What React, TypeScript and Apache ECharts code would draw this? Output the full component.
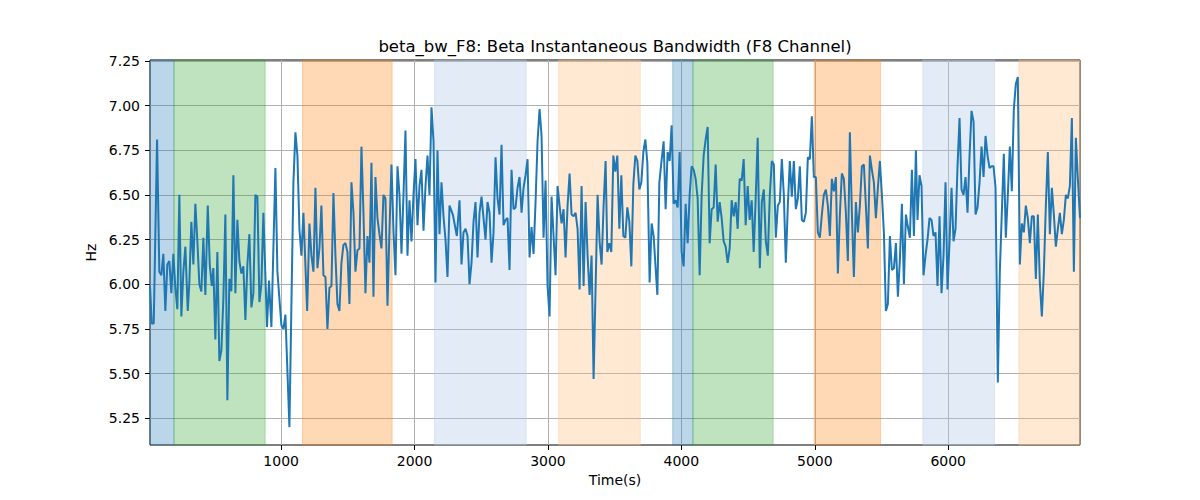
import React, { useEffect, useRef } from "react";
import * as echarts from "echarts";

// beta bandwidth samples
const timeSec = [
  17, 30, 45, 70, 87, 102, 117, 132, 147, 162,
  177, 192, 207, 222, 237, 252, 267, 282, 300, 312,
  327, 342, 357, 372, 387, 402, 417, 432, 450, 465,
  480, 492, 507, 522, 537, 552, 567, 582, 597, 612,
  627, 642, 657, 672, 687, 702, 717, 732, 747, 762,
  777, 792, 807, 822, 837, 852, 867, 894, 909, 927,
  957, 972, 1002, 1017, 1032, 1062, 1092, 1107, 1122, 1137,
  1152, 1167,
  1195, 1212, 1227, 1242, 1257, 1272, 1287, 1302, 1317, 1332,
  1347, 1362, 1377, 1392, 1407, 1422, 1437, 1452, 1467, 1482,
  1497, 1512, 1527, 1542, 1557, 1572, 1587, 1602, 1617, 1632,
  1647, 1662, 1677, 1692, 1707, 1722, 1737, 1752, 1767, 1782,
  1797, 1812, 1827, 1842, 1857, 1872, 1887, 1902, 1917, 1932,
  1947, 1962, 1977, 1992, 2007, 2022, 2037, 2052, 2067, 2082,
  2097, 2112, 2127, 2142, 2157, 2172, 2187, 2202, 2217, 2232,
  2247,
  2262, 2287, 2317, 2337, 2352, 2367, 2382, 2397, 2412, 2427,
  2442, 2457, 2472, 2487, 2502, 2517, 2532, 2547, 2562, 2577,
  2592, 2607, 2622, 2637, 2652, 2667, 2682, 2697, 2712, 2727,
  2742, 2757, 2772, 2787, 2802, 2817, 2832, 2847, 2862, 2877,
  2892, 2907, 2922, 2937, 2952, 2967, 2982, 2997, 3012, 3027,
  3042, 3057, 3072, 3087, 3102, 3117, 3132, 3147, 3162, 3177,
  3192, 3207, 3222, 3237, 3252, 3267, 3282, 3297, 3312, 3327,
  3342, 3357, 3372, 3387, 3402, 3417, 3432,
  3445, 3460, 3475, 3490, 3505, 3520, 3535, 3550, 3565, 3580,
  3595, 3610, 3625, 3640, 3655, 3670, 3685, 3700, 3715, 3730,
  3745, 3762, 3777, 3792, 3807, 3820, 3835, 3850, 3867, 3882,
  3897, 3912, 3927, 3942, 3957, 3972, 3987, 4002, 4017, 4032,
  4047, 4062, 4077, 4092, 4107, 4122, 4137, 4152, 4167, 4182,
  4197, 4212, 4227, 4242, 4257, 4272, 4287, 4302, 4317, 4332,
  4347, 4362, 4377, 4392, 4407, 4422, 4437, 4452, 4467, 4482,
  4497, 4512, 4527, 4542, 4557, 4572,
  4588, 4603, 4618, 4633, 4648, 4663, 4678, 4693, 4708, 4723,
  4738, 4753, 4768, 4783, 4798, 4813, 4828, 4843, 4858, 4873,
  4888, 4903, 4918, 4933, 4948, 4963, 4978, 4993, 5008, 5023,
  5038, 5053, 5068, 5083, 5098, 5113, 5128, 5143, 5158, 5173,
  5188, 5203, 5218, 5233, 5248, 5263, 5278, 5293, 5308, 5323,
  5338, 5353, 5368, 5383, 5398, 5413, 5428, 5443, 5458, 5473,
  5488, 5503, 5518, 5533, 5548, 5563, 5578, 5593, 5608, 5623,
  5638, 5653, 5668, 5683, 5698, 5713, 5728, 5743, 5758,
  5770, 5785, 5800, 5815, 5830, 5845, 5860, 5875, 5890, 5905,
  5920, 5935, 5950, 5965, 5980, 5995, 6010, 6025, 6040, 6055,
  6070, 6085, 6100, 6115, 6130, 6145, 6160, 6175, 6190, 6205,
  6220, 6235, 6250, 6265, 6280, 6295, 6310, 6325, 6340, 6355,
  6372, 6387, 6402, 6417, 6432, 6447, 6462, 6477, 6492, 6507,
  6522, 6537, 6552, 6567, 6582, 6597, 6612, 6627, 6642, 6657,
  6672, 6687, 6702, 6717, 6732, 6747, 6762, 6777, 6792, 6807,
  6822, 6837, 6852, 6867, 6882, 6897, 6912, 6927, 6942, 6957,
  6972, 6988,
];

const bwHz = [
  5.99, 5.78, 5.78, 6.81, 6.07, 6.05, 6.17, 5.85, 6.11, 6.13,
  5.95, 6.17, 5.98, 5.86, 6.50, 5.82, 6.07, 6.21, 5.85, 6.01,
  6.35, 6.11, 6.45, 6.24, 6.00, 5.96, 6.26, 5.94, 6.44, 6.11,
  5.99, 6.09, 5.69, 6.18, 5.57, 5.63, 5.92, 6.39, 5.35, 6.03,
  5.96, 6.61, 5.95, 6.36, 6.13, 6.06, 6.10, 5.80, 6.11, 6.28,
  5.87, 5.95, 6.50, 6.49, 5.90, 6.00, 6.40, 5.76, 6.02, 5.76,
  6.65, 6.07, 5.77, 5.75, 5.83, 5.20, 6.57, 6.85, 6.72, 6.31,
  6.16, 6.40,
  5.85, 6.34, 6.16, 6.07, 6.54, 6.09, 6.20, 6.44, 6.05, 6.04,
  5.75, 5.98, 5.99, 6.51, 6.16, 5.89, 5.85, 6.12, 6.22, 6.23,
  6.18, 5.89, 6.57, 6.40, 6.07, 6.19, 6.20, 6.77, 6.40, 5.95,
  6.27, 6.12, 6.68, 5.93, 6.60, 6.37, 6.28, 6.20, 6.50, 6.48,
  5.88, 6.30, 6.67, 6.30, 6.05, 6.66, 6.50, 6.17, 6.50, 6.86,
  6.16, 6.47, 6.24, 6.50, 6.70, 6.33, 6.55, 6.64, 6.30, 6.55,
  6.72, 6.50, 6.99, 6.80, 6.01, 6.75, 6.28, 6.57, 6.38, 6.25,
  6.04,
  6.44, 6.39, 6.27, 6.47, 6.11, 6.29, 6.31, 6.27, 6.00, 6.12,
  6.35, 6.46, 6.15, 6.40, 6.49, 6.37, 6.25, 6.46, 6.40, 6.12,
  6.29, 6.71, 6.48, 6.39, 6.78, 6.33, 6.36, 6.37, 6.08, 6.64,
  6.42, 6.43, 6.54, 6.60, 6.40, 6.54, 6.61, 6.70, 6.15, 6.32,
  6.17, 6.46, 6.80, 6.98, 6.83, 6.26, 6.58, 5.99, 5.82, 6.49,
  6.27, 6.05, 6.55, 6.44, 6.34, 6.42, 6.15, 6.44, 6.62, 6.39,
  6.38, 6.40, 6.31, 5.97, 6.55, 5.99, 6.46, 6.16, 5.94, 6.16,
  5.47, 5.98, 6.50, 6.24, 6.11, 6.44, 6.69,
  6.18, 6.23, 6.18, 6.72, 6.63, 6.72, 6.31, 6.61, 6.27, 6.26,
  6.43, 6.35, 6.10, 6.56, 6.72, 6.69, 6.53, 6.57, 6.74, 6.81,
  6.68, 6.01, 6.34, 6.27, 6.09, 5.94, 6.57, 6.68, 6.80, 6.42,
  6.74, 6.69, 6.89, 6.45, 6.47, 6.43, 6.74, 6.18, 6.10, 6.45,
  6.23, 6.50, 6.66, 6.64, 6.59, 6.48, 6.05, 6.50, 6.72, 6.81,
  6.88, 6.23, 6.42, 6.43, 6.67, 6.35, 6.46, 6.37, 6.24, 6.21,
  6.12, 6.20, 6.47, 6.38, 6.46, 6.31, 6.59, 6.58, 6.70, 6.33,
  6.55, 6.36, 6.47, 6.18, 6.48, 6.82,
  6.09, 6.46, 6.53, 6.24, 6.16, 6.50, 6.69, 6.67, 6.26, 6.44,
  6.46, 6.70, 6.50, 6.12, 6.44, 6.69, 6.49, 6.69, 6.42, 6.48,
  6.66, 6.36, 6.35, 6.40, 6.71, 6.70, 6.94, 6.60, 6.60, 6.29,
  6.26, 6.39, 6.50, 6.53, 6.44, 6.27, 6.59, 6.52, 6.60, 6.06,
  6.39, 6.62, 6.59, 6.40, 6.13, 6.85, 6.40, 6.04, 6.46, 6.29,
  6.44, 6.66, 6.67, 6.44, 6.20, 6.72, 6.64, 6.57, 6.37, 6.54,
  6.69, 6.50, 6.29, 5.85, 5.89, 6.27, 6.08, 6.09, 6.23, 5.93,
  6.14, 6.45, 6.00, 6.39, 6.32, 6.26, 6.64, 6.27, 6.75,
  6.36, 6.61, 6.55, 6.05, 6.16, 6.25, 6.37, 6.36, 6.27, 6.29,
  5.99, 6.38, 5.95, 6.16, 6.57, 5.97, 6.24, 6.54, 6.24, 6.31,
  6.66, 6.93, 6.53, 6.50, 6.60, 6.40, 6.72, 6.97, 6.91, 6.39,
  6.43, 6.57, 6.77, 6.60, 6.83, 6.72, 6.65, 6.66, 6.66, 6.54,
  5.45, 6.07, 6.40, 6.73, 6.26, 6.50, 6.77, 6.52, 6.98, 7.12,
  7.16, 6.11, 6.34, 6.29, 6.44, 6.37, 6.23, 6.38, 6.38, 6.03,
  6.39, 6.01, 5.82, 6.07, 6.44, 6.74, 6.28, 6.54, 6.39, 6.21,
  6.31, 6.40, 6.28, 6.36, 6.50, 6.48, 6.55, 6.93, 6.07, 6.82,
  6.59, 6.37,
];

// shaded epochs
const bandStart = [17, 197, 1160, 2150, 3080, 3935, 4087, 4995, 5810, 6530];
const bandEnd = [197, 880, 1832, 2837, 3692, 4087, 4688, 5493, 6347, 6988];
const bandKind = [
  "blue", "green", "orange", "paleBlue", "paleOrange",
  "blue", "green", "orange", "paleBlue", "paleOrange",
];

const xTicks = [1000, 2000, 3000, 4000, 5000, 6000];
const yTicks = [5.25, 5.5, 5.75, 6.0, 6.25, 6.5, 6.75, 7.0, 7.25];

const bandColors: Record<string, string> = {
  blue: "rgba(31,119,180,0.3)",
  green: "rgba(44,160,44,0.3)",
  orange: "rgba(255,127,14,0.3)",
  paleBlue: "rgba(174,199,232,0.35)",
  paleOrange: "rgba(255,187,120,0.33)",
};

const FONT = "DejaVu Sans";

const App = () => {
  const chartRef = useRef<HTMLDivElement>(null);

  useEffect(() => {
    document.body.style.margin = "0";
    if (!chartRef.current) return;
    const chart = echarts.init(chartRef.current, null, { renderer: "svg" });

    const points = timeSec.map((t, i) => [t, bwHz[i]]);
    const bands = bandStart.map((s, i) => {
      const c = bandColors[bandKind[i]];
      return [
        { xAxis: s, itemStyle: { color: c, borderColor: c, borderWidth: 1 } },
        { xAxis: bandEnd[i] },
      ];
    });

    const option = {
      animation: false,
      grid: {
        left: 150,
        right: 120,
        top: 60,
        bottom: 55,
        show: true,
        borderColor: "#000",
        borderWidth: 1,
        backgroundColor: "transparent",
      },
      graphic: [
        {
          type: "text",
          x: 615,
          y: 46,
          style: {
            text: "beta_bw_F8: Beta Instantaneous Bandwidth (F8 Channel)",
            font: `16.5px "${FONT}"`,
            fill: "#000",
            textAlign: "center",
            textVerticalAlign: "middle",
          },
        },
      ],
      xAxis: {
        type: "value",
        min: 17,
        max: 6988,
        name: "Time(s)",
        nameLocation: "middle",
        nameGap: 28,
        nameTextStyle: { color: "#000", fontSize: 14, fontFamily: FONT },
        axisLine: { show: false },
        axisTick: {
          show: true,
          customValues: xTicks,
          length: 5,
          lineStyle: { color: "#000", width: 1 },
        },
        axisLabel: {
          customValues: xTicks,
          margin: 9,
          color: "#000",
          fontSize: 14,
          fontFamily: FONT,
          formatter: (v: number) => String(v),
        },
        splitLine: { show: true, lineStyle: { color: "#b0b0b0", width: 1 } },
      },
      yAxis: {
        type: "value",
        min: 5.1,
        max: 7.255,
        name: "Hz",
        nameLocation: "middle",
        nameGap: 49,
        nameTextStyle: { color: "#000", fontSize: 14, fontFamily: FONT },
        axisLine: { show: false },
        axisTick: {
          show: true,
          customValues: yTicks,
          length: 5,
          lineStyle: { color: "#000", width: 1 },
        },
        axisLabel: {
          customValues: yTicks,
          margin: 10,
          color: "#000",
          fontSize: 14,
          fontFamily: FONT,
          formatter: (v: number) => v.toFixed(2),
        },
        splitLine: { show: true, lineStyle: { color: "#b0b0b0", width: 1 } },
      },
      series: [
        {
          name: "beta_bw_F8",
          type: "line",
          data: points,
          showSymbol: false,
          lineStyle: { color: "#1f77b4", width: 2 },
          itemStyle: { color: "#1f77b4" },
          markArea: { silent: true, data: bands },
        },
      ],
    };

    chart.setOption(option);

    return () => {
      chart.dispose();
    };
  }, []);

  return <div ref={chartRef} style={{ width: "1200px", height: "500px" }} />;
};

export default App;
